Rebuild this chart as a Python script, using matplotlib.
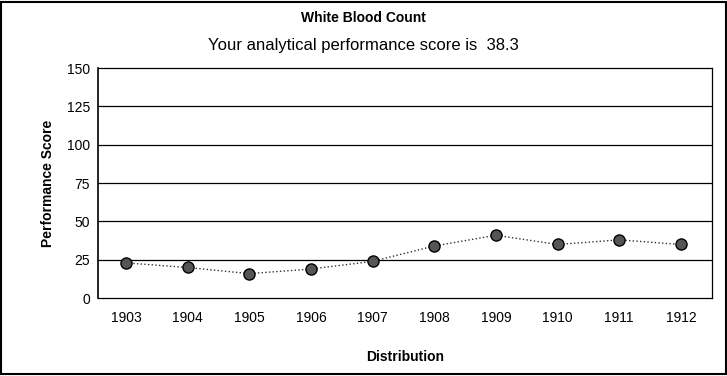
import matplotlib as mpl
import matplotlib.pyplot as plt
from matplotlib.patches import Rectangle

years = [1903, 1904, 1905, 1906, 1907, 1908, 1909, 1910, 1911, 1912]
scores = [23, 20, 16, 19, 24, 34, 41, 35, 38, 35]
score_total = 38.3
y_ticks = [0, 25, 50, 75, 100, 125, 150]

mpl.rc('font', family=['Liberation Sans', 'DejaVu Sans'])

fig = plt.figure(figsize=(7.27, 3.76), dpi=100)
ax = fig.add_axes([0.135, 0.207, 0.844, 0.612])

for v in y_ticks[1:-1]:
    ax.axhline(v, color='black', lw=0.9, zorder=1)

ax.plot(years, scores, linestyle=':', color='#333333', lw=1.0,
        marker='o', markersize=8, markerfacecolor='#555555',
        markeredgecolor='black', markeredgewidth=1.0, zorder=3)

ax.set_xlim(1902.55, 1912.5)
ax.set_ylim(0, 150)
ax.set_xticks(years)
ax.set_yticks(y_ticks)
ax.tick_params(axis='both', length=0, labelsize=10, pad=6)
ax.tick_params(axis='x', pad=9)

for side in ['top', 'right', 'bottom']:
    ax.spines[side].set_linestyle((0, (4, 1)))
    ax.spines[side].set_linewidth(0.9)
ax.spines['left'].set_linewidth(1.2)

ax.set_ylabel('Performance Score', fontsize=10, fontweight='bold', labelpad=8)
ax.set_xlabel('Distribution', fontsize=10, fontweight='bold', labelpad=18)

fig.text(0.5, 0.952, 'White Blood Count', ha='center', va='center',
         fontsize=10, fontweight='bold')
fig.text(0.5, 0.88, 'Your analytical performance score is  {}'.format(score_total),
         ha='center', va='center', fontsize=12)

# border around the whole report panel
fig.patches.append(Rectangle((0.002, 0.004), 0.996, 0.992, transform=fig.transFigure,
                             fill=False, edgecolor='black', lw=1.5))

fig.savefig('out.png', dpi=100)
